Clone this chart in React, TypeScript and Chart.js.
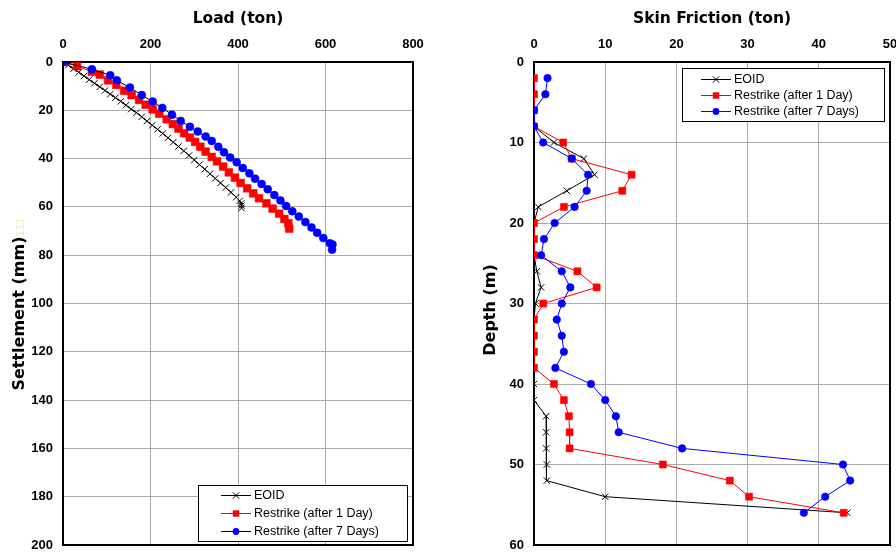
import React, { useEffect, useRef } from "react";
import { Chart, registerables } from "chart.js";
Chart.register(...registerables);

// ---------- Data ----------
const seriesNames = ["EOID", "Restrike (after 1 Day)", "Restrike (after 7 Days)"];

const loadTicks = [0, 200, 400, 600, 800];
const settlementTicks = [0, 20, 40, 60, 80, 100, 120, 140, 160, 180, 200];
const frictionTicks = [0, 10, 20, 30, 40, 50];
const depthTicks = [0, 10, 20, 30, 40, 50, 60];

// Load (ton) vs Settlement (mm)
const eoidLoad = [0, 12, 24, 36, 48, 60, 72, 84, 96, 108, 120, 132, 144, 156, 168, 180, 192, 204, 216, 228, 240, 252, 264, 276, 288, 300, 312, 324, 336, 348, 360, 372, 384, 396, 404, 407, 408, 408];
const eoidSettle = [0, 1.3, 2.8, 4.3, 5.8, 7.3, 8.8, 10.3, 11.8, 13.3, 14.8, 16.3, 17.9, 19.5, 21.0, 22.7, 24.5, 26.2, 27.9, 29.6, 31.4, 33.2, 35.0, 36.8, 38.7, 40.6, 42.5, 44.4, 46.3, 48.2, 50.1, 52.0, 54.0, 56.0, 57.5, 58.6, 59.5, 60.5];

const day1Load = [0, 32, 66, 84, 103, 122, 140, 157, 174, 189, 205, 220, 237, 251, 264, 277, 290, 302, 314, 326, 340, 352, 366, 379, 393, 406, 421, 435, 448, 465, 479, 494, 506, 515, 517];
const day1Settle = [0, 1.7, 4.0, 5.2, 7.6, 9.5, 11.9, 13.7, 15.7, 17.7, 19.6, 21.4, 23.7, 25.7, 27.6, 29.5, 31.3, 33.1, 35.1, 37.1, 39.3, 41.1, 43.3, 45.7, 47.9, 50.1, 52.3, 54.4, 56.4, 58.5, 60.7, 62.8, 65.0, 66.8, 69.0];

const day7Load = [0, 66, 108, 123, 153, 180, 205, 227, 249, 269, 290, 308, 326, 340, 355, 368, 382, 397, 411, 426, 439, 454, 468, 483, 497, 510, 524, 539, 554, 568, 581, 595, 610, 616, 615];
const day7Settle = [0, 3.0, 5.5, 7.6, 10.6, 13.7, 16.4, 19.0, 21.8, 24.4, 26.8, 28.8, 30.9, 32.7, 35.1, 37.4, 39.5, 41.5, 43.9, 46.1, 48.3, 50.5, 52.7, 55.1, 57.3, 59.6, 61.8, 64.0, 66.3, 68.5, 70.7, 72.9, 75.1, 75.6, 77.7];

// Depth (m) vs Skin Friction (ton)
const depths = [2, 4, 6, 8, 10, 12, 14, 16, 18, 20, 22, 24, 26, 28, 30, 32, 34, 36, 38, 40, 42, 44, 46, 48, 50, 52, 54, 56];
const eoidFriction = [0, 0, 0, 0, 2.8, 7.0, 8.5, 4.6, 0.6, 0, 0, 0, 0.4, 1.0, 0.2, 0, 0, 0, 0, 0, 0, 1.7, 1.7, 1.7, 1.8, 1.8, 10.0, 44.0];
const day1Friction = [0, 0, 0, 0, 4.1, 5.3, 13.7, 12.4, 4.2, 0, 0, 0, 6.1, 8.8, 1.3, 0, 0, 0, 0, 2.8, 4.2, 4.9, 5.0, 5.0, 18.1, 27.5, 30.2, 43.5];
const day7Friction = [1.9, 1.6, 0, 0, 1.3, 5.3, 7.6, 7.4, 5.7, 2.9, 1.4, 1.0, 3.9, 5.1, 3.9, 3.2, 3.9, 4.2, 3.0, 8.0, 10.0, 11.5, 11.9, 20.8, 43.4, 44.4, 40.9, 37.9];

// ---------- Helpers ----------
const TICK_FONT = { family: "'Liberation Sans', Arial, sans-serif", size: 13, weight: "bold" as const };
const TITLE_FONT = { family: "'DejaVu Sans', sans-serif", size: 15.5, weight: "bold" as const };
const LEGEND_FONT = "12.5px 'Liberation Sans', Arial, sans-serif";
const GRID_COLOR = "#ababab";

function pairs(xs: number[], ys: number[]) {
  return xs.map((x, i) => ({ x, y: ys[i] }));
}

function drawMarker(ctx: CanvasRenderingContext2D, style: string, x: number, y: number, r: number, color: string) {
  ctx.save();
  ctx.fillStyle = color;
  ctx.strokeStyle = color;
  ctx.lineWidth = 1;
  ctx.beginPath();
  if (style === "circle") {
    ctx.arc(x, y, r, 0, Math.PI * 2);
    ctx.fill();
  } else if (style === "rect") {
    ctx.fillRect(x - r, y - r, 2 * r, 2 * r);
  } else {
    ctx.moveTo(x - r, y - r);
    ctx.lineTo(x + r, y + r);
    ctx.moveTo(x - r, y + r);
    ctx.lineTo(x + r, y - r);
    ctx.stroke();
  }
  ctx.restore();
}

type LegendRow = { label: string; line: string; marker: string; markerColor: string; r: number };
type LegendCfg = { x: number; y: number; w: number; h: number; rowsY: number[]; lineX0: number; lineX1: number; textX: number; rows: LegendRow[] };

function makeLegendPlugin(cfg: LegendCfg) {
  return {
    id: "boxLegend",
    afterDraw(chart: any) {
      const ctx: CanvasRenderingContext2D = chart.ctx;
      ctx.save();
      ctx.fillStyle = "#fff";
      ctx.fillRect(cfg.x, cfg.y, cfg.w, cfg.h);
      ctx.strokeStyle = "#000";
      ctx.lineWidth = 1;
      ctx.strokeRect(cfg.x + 0.5, cfg.y + 0.5, cfg.w, cfg.h);
      cfg.rows.forEach((row, i) => {
        const y = cfg.rowsY[i];
        ctx.strokeStyle = row.line;
        ctx.lineWidth = 1;
        ctx.beginPath();
        ctx.moveTo(cfg.lineX0, y + 0.5);
        ctx.lineTo(cfg.lineX1, y + 0.5);
        ctx.stroke();
        drawMarker(ctx, row.marker, (cfg.lineX0 + cfg.lineX1) / 2, y + 0.5, row.r, row.markerColor);
        ctx.fillStyle = "#000";
        ctx.font = LEGEND_FONT;
        ctx.textBaseline = "middle";
        ctx.textAlign = "left";
        ctx.fillText(row.label, cfg.textX, y + 1);
      });
      ctx.restore();
    },
  };
}

const framePlugin = {
  id: "frame",
  beforeDatasetsDraw(chart: any) {
    const { ctx, chartArea: a } = chart;
    ctx.save();
    ctx.strokeStyle = "#000";
    ctx.lineWidth = 2;
    ctx.strokeRect(a.left, a.top, a.right - a.left, a.bottom - a.top);
    ctx.restore();
  },
};

function makeYTitlePlugin(text: string, extra: string, baselineX: number, centerY: number) {
  return {
    id: "yTitle",
    afterDraw(chart: any) {
      const ctx: CanvasRenderingContext2D = chart.ctx;
      ctx.save();
      const mainFont = `bold 16px 'DejaVu Sans', sans-serif`;
      const extraFont = `10px 'DejaVu Sans', sans-serif`;
      ctx.font = mainFont;
      const w1 = ctx.measureText(text).width;
      ctx.font = extraFont;
      const w2 = extra ? ctx.measureText(extra).width : 0;
      ctx.translate(baselineX, centerY);
      ctx.rotate(-Math.PI / 2);
      ctx.textBaseline = "alphabetic";
      ctx.textAlign = "left";
      const start = -(w1 + w2) / 2;
      ctx.font = mainFont;
      ctx.fillStyle = "#000";
      ctx.fillText(text, start, 0);
      if (extra) {
        ctx.font = extraFont;
        ctx.fillStyle = "#f3eda8";
        ctx.fillText(extra, start + w1, 0);
      }
      ctx.restore();
    },
  };
}

function xScale(ticks: number[], title: string) {
  return {
    type: "linear" as const,
    position: "top" as const,
    min: ticks[0],
    max: ticks[ticks.length - 1],
    afterBuildTicks: (s: any) => {
      s.ticks = ticks.map((v) => ({ value: v }));
    },
    ticks: { font: TICK_FONT, color: "#000", padding: 10, maxRotation: 0, autoSkip: false },
    grid: { color: GRID_COLOR, lineWidth: 1, drawTicks: false },
    border: { display: false },
    title: { display: true, text: title, font: TITLE_FONT, color: "#000", padding: { top: 10, bottom: 0 } },
    afterFit: (s: any) => {
      s.height = 62;
      s.paddingLeft = 0;
      s.paddingRight = 0;
    },
  };
}

function yScale(ticks: number[], width: number) {
  return {
    type: "linear" as const,
    reverse: true,
    min: ticks[0],
    max: ticks[ticks.length - 1],
    afterBuildTicks: (s: any) => {
      s.ticks = ticks.map((v) => ({ value: v }));
    },
    ticks: { font: TICK_FONT, color: "#000", padding: 10, autoSkip: false },
    grid: { color: GRID_COLOR, lineWidth: 1, drawTicks: false },
    border: { display: false },
    afterFit: (s: any) => {
      s.width = width;
      s.paddingTop = 0;
      s.paddingBottom = 0;
    },
  };
}

function LoadChart() {
  const ref = useRef<HTMLCanvasElement>(null);
  useEffect(() => {
    if (!ref.current) return;
    const chart = new Chart(ref.current, {
      type: "scatter",
      data: {
        datasets: [
          {
            label: seriesNames[2],
            data: pairs(day7Load, day7Settle),
            showLine: true,
            borderColor: "#000",
            borderWidth: 1,
            pointStyle: "circle",
            pointRadius: 4,
            pointBackgroundColor: "#0000ff",
            pointBorderColor: "#0000ff",
            pointBorderWidth: 0.5,
            order: 0,
          },
          {
            label: seriesNames[1],
            data: pairs(day1Load, day1Settle),
            showLine: true,
            borderColor: "#ff0000",
            borderWidth: 1,
            pointStyle: "rect",
            pointRadius: 5.5,
            pointBackgroundColor: "#ff0000",
            pointBorderColor: "#ff0000",
            pointBorderWidth: 0.5,
            order: 1,
          },
          {
            label: seriesNames[0],
            data: pairs(eoidLoad, eoidSettle),
            showLine: true,
            borderColor: "#000",
            borderWidth: 1,
            pointStyle: "crossRot",
            pointRadius: 4.5,
            pointBorderColor: "#000",
            pointBorderWidth: 1,
            order: 2,
          },
        ],
      },
      options: {
        responsive: false,
        animation: false,
        devicePixelRatio: 1,
        layout: { padding: { left: 0, right: 35, top: 0, bottom: 9 } },
        plugins: { legend: { display: false }, tooltip: { enabled: false } },
        scales: {
          x: xScale(loadTicks, "Load (ton)"),
          y: yScale(settlementTicks, 63),
        },
      },
      plugins: [
        framePlugin,
        makeYTitlePlugin("Settlement (mm)", "111", 24, 304),
        makeLegendPlugin({
          x: 198,
          y: 485,
          w: 209,
          h: 56,
          rowsY: [495, 513, 531],
          lineX0: 221,
          lineX1: 251,
          textX: 254,
          rows: [
            { label: seriesNames[0], line: "#000", marker: "crossRot", markerColor: "#000", r: 3.2 },
            { label: seriesNames[1], line: "#ff0000", marker: "rect", markerColor: "#ff0000", r: 3.2 },
            { label: seriesNames[2], line: "#000", marker: "circle", markerColor: "#0000ff", r: 3.4 },
          ],
        }),
      ],
    });
    return () => chart.destroy();
  }, []);
  return <canvas ref={ref} width={448} height={554} style={{ position: "absolute", left: 0, top: 0, width: 448, height: 554 }} />;
}

function FrictionChart() {
  const ref = useRef<HTMLCanvasElement>(null);
  useEffect(() => {
    if (!ref.current) return;
    const chart = new Chart(ref.current, {
      type: "scatter",
      data: {
        datasets: [
          {
            label: seriesNames[2],
            data: pairs(day7Friction, depths),
            showLine: true,
            borderColor: "#0000ff",
            borderWidth: 1,
            pointStyle: "circle",
            pointRadius: 3.8,
            pointBackgroundColor: "#0000ff",
            pointBorderColor: "#0000ff",
            pointBorderWidth: 0.5,
            order: 0,
          },
          {
            label: seriesNames[1],
            data: pairs(day1Friction, depths),
            showLine: true,
            borderColor: "#ff0000",
            borderWidth: 1,
            pointStyle: "rect",
            pointRadius: 5,
            pointBackgroundColor: "#ff0000",
            pointBorderColor: "#ff0000",
            pointBorderWidth: 0.5,
            order: 1,
          },
          {
            label: seriesNames[0],
            data: pairs(eoidFriction, depths),
            showLine: true,
            borderColor: "#000",
            borderWidth: 1,
            pointStyle: "crossRot",
            pointRadius: 4.5,
            pointBorderColor: "#000",
            pointBorderWidth: 1,
            order: 2,
          },
        ],
      },
      options: {
        responsive: false,
        animation: false,
        devicePixelRatio: 1,
        layout: { padding: { left: 0, right: 6, top: 0, bottom: 9 } },
        plugins: { legend: { display: false }, tooltip: { enabled: false } },
        scales: {
          x: xScale(frictionTicks, "Skin Friction (ton)"),
          y: yScale(depthTicks, 86),
        },
      },
      plugins: [
        framePlugin,
        makeYTitlePlugin("Depth (m)", "", 47, 310),
        makeLegendPlugin({
          x: 234,
          y: 68,
          w: 202,
          h: 53,
          rowsY: [79, 95, 111],
          lineX0: 253,
          lineX1: 283,
          textX: 286,
          rows: [
            { label: seriesNames[0], line: "#000", marker: "crossRot", markerColor: "#000", r: 3.2 },
            { label: seriesNames[1], line: "#ff0000", marker: "rect", markerColor: "#ff0000", r: 3.2 },
            { label: seriesNames[2], line: "#0000ff", marker: "circle", markerColor: "#0000ff", r: 3.4 },
          ],
        }),
      ],
    });
    return () => chart.destroy();
  }, []);
  return <canvas ref={ref} width={448} height={554} style={{ position: "absolute", left: 448, top: 0, width: 448, height: 554 }} />;
}

export default function App() {
  return (
    <div style={{ position: "fixed", left: 0, top: 0, width: 896, height: 554, background: "#fff", overflow: "hidden" }}>
      <LoadChart />
      <FrictionChart />
    </div>
  );
}
